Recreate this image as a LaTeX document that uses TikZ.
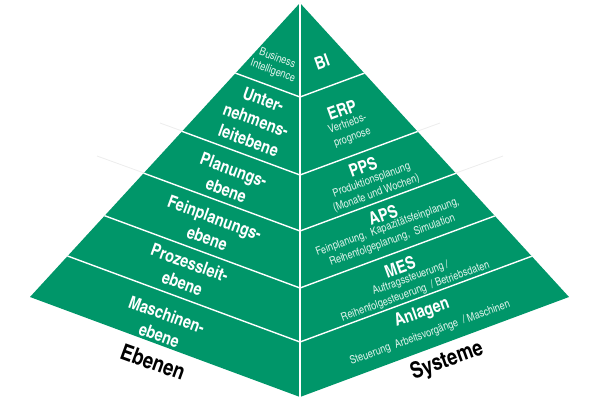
\documentclass[tikz,border=0pt]{standalone}
\usepackage{fontspec}
\setmainfont{texgyreheroscn}[Extension=.otf, UprightFont=*-regular, BoldFont=*-bold, ItalicFont=*-italic, BoldItalicFont=*-bolditalic]
\usepackage{xcolor}
\definecolor{pyrgreen}{RGB}{0, 150, 105}
\definecolor{notewhite}{RGB}{220, 242, 233}
\usepackage{tikz}

\begin{document}
\begin{tikzpicture}[x=0.025cm, y=-0.025cm,
    ebene/.style={text=white, font=\bfseries\fontsize{12.5}{15.5}\selectfont, align=center, inner sep=0pt, rotate=-20},
    ebenenote/.style={text=notewhite, font=\fontsize{8}{9.5}\selectfont, align=center, inner sep=0pt, rotate=-20},
    system/.style={text=white, font=\bfseries\fontsize{12.5}{15.5}\selectfont, align=center, inner sep=0pt, rotate=20},
    systemnote/.style={text=notewhite, font=\fontsize{8}{10}\selectfont, align=center, inner sep=0pt, rotate=20},
    facecap/.style={text=black, font=\bfseries\fontsize{16}{18}\selectfont, inner sep=0pt},
    divider/.style={white, line width=1pt},
    ghostline/.style={black!7, line width=0.6pt}]
    \useasboundingbox (0,0) rectangle (600,400);

    \coordinate (apex) at (300,3);
    \coordinate (lc) at (30,297);
    \coordinate (rc) at (569,297);
    \coordinate (bot) at (300,397);

    % faint continuations of the slabs
    \draw[ghostline] (182,131) -- (160,123);
    \draw[ghostline] (144,173) -- (97,156);
    \draw[ghostline] (418,131) -- (440,123);
    \draw[ghostline] (456,173) -- (503,156);

    \fill[pyrgreen] (apex) -- (lc) -- (bot) -- cycle;
    \fill[pyrgreen] (apex) -- (rc) -- (bot) -- cycle;

    \begin{scope}
        \clip (apex) -- (lc) -- (bot) -- cycle;
        \foreach \yc in {97,175,231,288,342}
            \draw[divider] (300,\yc) -- ++(-300,-111);
    \end{scope}
    \begin{scope}
        \clip (apex) -- (rc) -- (bot) -- cycle;
        \foreach \yc in {97,175,231,288,342}
            \draw[divider] (300,\yc) -- ++(300,-111);
    \end{scope}
    \draw[divider] (apex) -- (bot);

    % Ebenen
    \node[ebenenote] (bintel) at (275,65) {Business\\Intelligence};
    \node[ebene] (unternehmen) at (256,120) {Unter-\\nehmens-\\leitebene};
    \node[ebene] (planung) at (230,180) {Planungs-\\ebene};
    \node[ebene] (feinplanung) at (211,228) {Feinplanungs-\\ebene};
    \node[ebene] (prozessleit) at (186,273) {Prozessleit-\\ebene};
    \node[ebene] (maschinen) at (163,325) {Maschinen-\\ebene};
    \node[facecap, rotate=-20] (ebenen) at (153,362) {Ebenen};

    % Systeme
    \node[system] (bi) at (322,62) {BI};
    \node[system] (erp) at (342,110) {ERP};
    \node[systemnote] (erpnote) at (350,131) {Vertriebs-\\prognose};
    \node[system] (pps) at (363,167) {PPS};
    \node[systemnote] (ppsnote) at (374,187) {Produktionsplanung\\(Monate und Wochen)};
    \node[system] (aps) at (383,215) {APS};
    \node[systemnote] (apsnote) at (390,234) {Feinplanung,\ \ Kapazitätsfeinplanung,\\Reihenfolgeplanung,\ \ Simulation};
    \node[system] (mes) at (400,267) {MES};
    \node[systemnote] (mesnote) at (413,285) {Auftragssteuerung /\\Reihenfolgesteuerung\ \ / Betriebsdaten};
    \node[system] (anlagen) at (422,313) {Anlagen};
    \node[systemnote] (anlagennote) at (430,333) {Steuerung\ \ Arbeitsvorgänge\ \ /\ Maschinen};
    \node[facecap, rotate=20] (systeme) at (447,361) {Systeme};
\end{tikzpicture}
\end{document}
